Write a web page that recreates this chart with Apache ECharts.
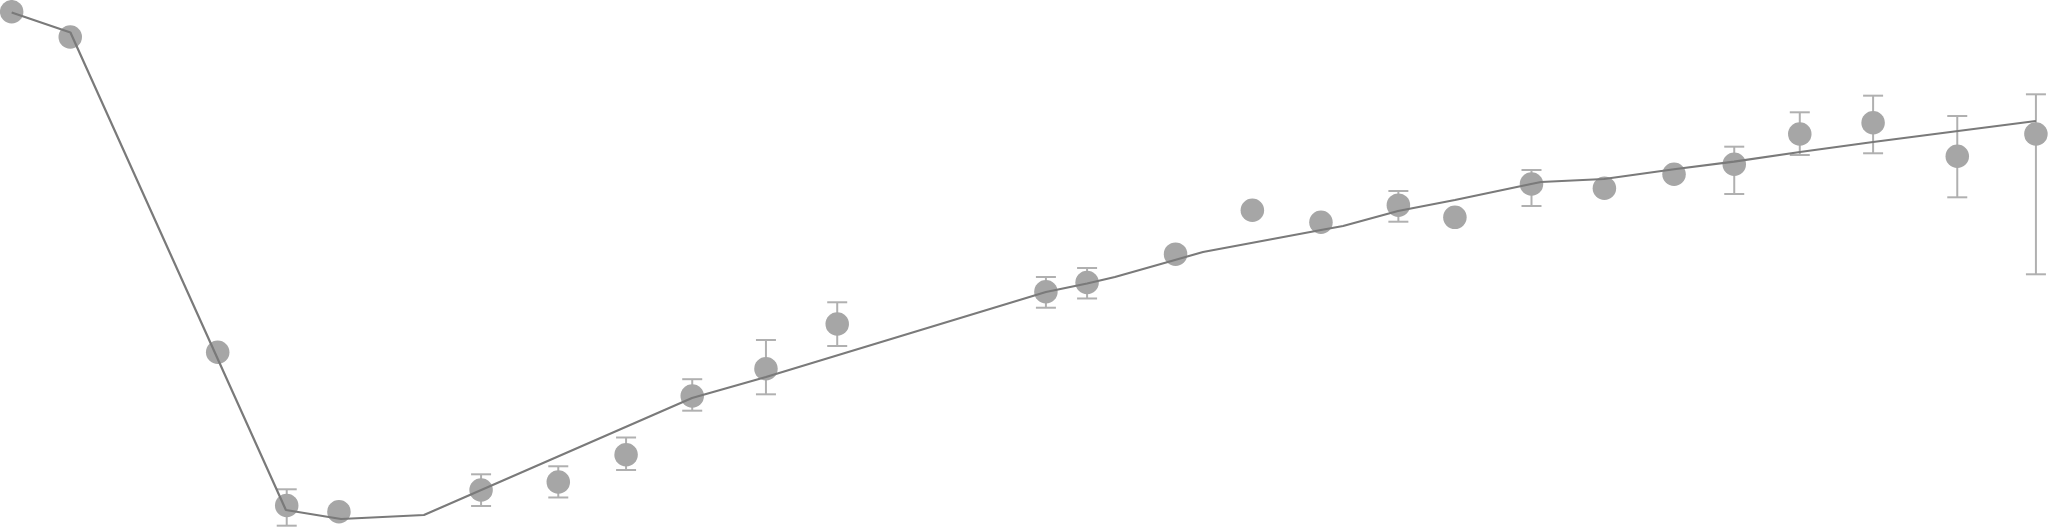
<!DOCTYPE html>
<html>
<head>
<meta charset="utf-8">
<script src="https://cdn.jsdelivr.net/npm/echarts@6/dist/echarts.min.js"></script>
<style>
html,body{margin:0;padding:0;background:#fff;}
#chart{width:2048px;height:528px;}
</style>
</head>
<body>
<div id="chart"></div>
<script>
// Observed points (x, y)
const pointX = [0.57, 3.43, 10.63, 14.00, 16.55, 23.49, 27.26, 30.57, 33.80, 37.40, 40.88, 51.07, 53.08, 57.40, 61.15, 64.50, 68.28, 71.04, 74.78, 78.34, 81.74, 84.68, 87.88, 91.46, 95.57, 99.41];
const pointY = [97.78, 92.99, 33.28, 4.26, 3.09, 7.20, 8.71, 13.88, 25.00, 30.17, 38.64, 44.75, 46.50, 51.86, 60.19, 57.90, 61.14, 58.84, 65.15, 64.34, 67.01, 68.88, 74.62, 76.76, 70.40, 74.62];
// Error bar bounds (null = no error bar)
const errLow  = [null, null, null, 0.44, null, 4.17, 5.78, 10.98, 22.22, 25.32, 34.47, 41.72, 43.47, null, null, null, 58.01, null, 60.98, null, null, 63.26, 70.64, 70.97, 62.63, 48.05];
const errHigh = [null, null, null, 7.33, null, 10.17, 11.69, 17.14, 28.18, 35.61, 42.75, 47.54, 49.24, null, null, null, 63.83, null, 67.80, null, null, 72.22, 78.73, 81.88, 78.03, 82.14];
// Fitted trend line
const fitX = [0.57, 3.44, 13.96, 16.65, 20.70, 33.79, 37.40, 51.07, 53.08, 54.44, 57.37, 58.74, 64.50, 65.58, 68.26, 71.04, 74.76, 75.24, 78.32, 81.74, 84.67, 87.89, 91.46, 95.61, 99.41];
const fitY = [97.63, 93.84, 3.41, 1.70, 2.46, 24.62, 28.60, 44.70, 46.31, 47.54, 50.76, 52.27, 56.44, 57.20, 60.04, 62.12, 65.15, 65.53, 66.10, 67.94, 69.38, 71.21, 73.11, 75.19, 77.08];

const points = pointX.map((x, i) => [x, pointY[i]]);
const errData = [];
pointX.forEach((x, i) => { if (errLow[i] !== null) errData.push([x, errLow[i], errHigh[i]]); });
const fitData = fitX.map((x, i) => [x, fitY[i]]);

const chart = echarts.init(document.getElementById('chart'), null, {renderer: 'canvas'});
chart.setOption({
  animation: false,
  backgroundColor: '#ffffff',
  grid: {left: 0, right: 0, top: 0, bottom: 0},
  xAxis: {type: 'value', min: 0, max: 100, show: false},
  yAxis: {type: 'value', min: 0, max: 100, show: false},
  series: [
    {
      type: 'custom',
      z: 1,
      data: errData,
      renderItem: function (params, api) {
        const x = api.value(0);
        const lo = api.coord([x, api.value(1)]);
        const hi = api.coord([x, api.value(2)]);
        const hw = 10;
        const style = {stroke: '#b0b0b0', lineWidth: 2};
        return {
          type: 'group',
          children: [
            {type: 'line', shape: {x1: lo[0], y1: lo[1], x2: hi[0], y2: hi[1]}, style: style},
            {type: 'line', shape: {x1: lo[0] - hw, y1: lo[1], x2: lo[0] + hw, y2: lo[1]}, style: style},
            {type: 'line', shape: {x1: hi[0] - hw, y1: hi[1], x2: hi[0] + hw, y2: hi[1]}, style: style}
          ]
        };
      }
    },
    {
      type: 'scatter',
      z: 2,
      data: points,
      symbol: 'circle',
      symbolSize: 23.5,
      itemStyle: {color: '#a6a6a6', opacity: 1},
      emphasis: {disabled: true},
      clip: false
    },
    {
      type: 'line',
      z: 3,
      data: fitData,
      showSymbol: false,
      symbol: 'none',
      lineStyle: {color: '#7a7a7a', width: 2.2},
      emphasis: {disabled: true},
      clip: false
    }
  ]
});
</script>
</body>
</html>
